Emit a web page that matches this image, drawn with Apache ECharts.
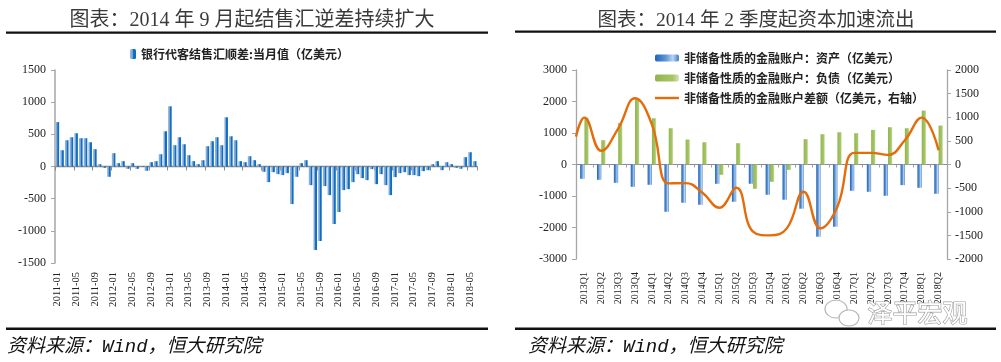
<!DOCTYPE html>
<html><head><meta charset="utf-8">
<script src="https://cdn.jsdelivr.net/npm/echarts@6/dist/echarts.min.js"></script>
<style>html,body{margin:0;padding:0;background:#fff;}#c{width:1001px;height:362px;}</style>
</head><body><div id="c"></div>
<script>
// ---------- data ----------
const leftTitle = '图表：2014 年 9 月起结售汇逆差持续扩大';
const rightTitle = '图表：2014 年 2 季度起资本加速流出';
const leftSeriesName = '银行代客结售汇顺差:当月值（亿美元）';
const rightSeriesNames = ['非储备性质的金融账户：资产（亿美元）', '非储备性质的金融账户：负债（亿美元）', '非储备性质的金融账户差额（亿美元，右轴）'];
const sourceText = '资料来源：Wind，恒大研究院';

const months = [];
for (let y = 2011; y <= 2018; y++) for (let m = 1; m <= 12; m++) {
  if (y === 2018 && m > 6) break;
  months.push(y + '-' + (m < 10 ? '0' + m : m));
}
const netSettlement = [
  690, 253, 408, 455, 517, 440, 440, 377, 269, 36, -20, -160,
  207, 52, 83, -36, 52, -36, 8, -67, 67, 83, 191, 548,
  936, 331, 455, 346, 176, 83, 36, 98, 315, 393, 455, 331,
  765, 470, 408, 83, 67, 160, 98, 36, -83, -243, -88, -119,
  -134, -103, -584, -160, 52, 98, -290, -1298, -1158, -305, -445, -894,
  -708, -367, -352, -243, -119, -181, -212, -41, -274, -119, -290, -445,
  -165, -103, -88, -134, -134, -150, -72, -57, 36, 83, -57, 67,
  36, -20, -36, 145, 222, 83
];

const quarters = [];
for (let y = 2013; y <= 2018; y++) for (let q = 1; q <= 4; q++) {
  if (y === 2018 && q > 2) break;
  quarters.push(y + 'Q' + q);
}
const assets = [-454, -486, -581, -708, -644, -1500, -1214, -1278, -612, -1183, -612, -961, -1119, -1404, -2292, -1975, -834, -866, -993, -655, -739, -929];
const liabilities = [1489, 771, 1320, 2070, 1468, 1151, 792, 707, -327, 676, -771, -549, -169, 803, 961, 1024, 993, 1098, 1183, 1151, 1711, 1236];
const netFlowStart = 590; // value where the curve enters at the left axis
const netFlow = [993, 290, 760, 1401, 850, -400, -394, -598, -915, -493, -1420, -1500, -1352, -577, -1352, -894, 246, 246, 204, 514, 993, 303];

// ---------- chart ----------
const chart = echarts.init(document.getElementById('c'), null, {renderer: 'canvas'});
const G = echarts.graphic;
const serif = '"Liberation Serif", "Times New Roman", serif';
const cjk = '"Liberation Serif", "Noto Sans CJK SC", serif';
const axisGray = '#A6A6A6';
const plain = v => String(v);

const lineData = [[0, netFlowStart]].concat(netFlow.map((v, i) => [i + 0.5, v]));

const leftBarColor = new G.LinearGradient(0, 0, 1, 0, [
  {offset: 0, color: '#A3B8D3'}, {offset: 0.5, color: '#6F9DD2'},
  {offset: 0.58, color: '#0A6FC7'}, {offset: 1, color: '#0A6FC7'}]);
const assetColor = new G.LinearGradient(0, 0, 1, 0, [
  {offset: 0, color: '#1E63B8'}, {offset: 0.45, color: '#5F95D4'},
  {offset: 0.75, color: '#BCD4EF'}, {offset: 1, color: '#3A7BC8'}]);
const liabColor = new G.LinearGradient(0, 0, 1, 0, [
  {offset: 0, color: '#93B550'}, {offset: 0.75, color: '#A6C766'},
  {offset: 1, color: '#D8E6BE'}]);

const catLabel = (fs, margin, interval) => ({
  rotate: 90, interval: interval, fontFamily: serif, fontSize: fs, color: '#222', margin: margin
});
const legendText = {fontFamily: '"Noto Sans CJK SC"', fontSize: 12, lineHeight: 12, fontWeight: 'bold', color: '#222'};

chart.setOption({
  animation: false,
  title: [
    {text: leftTitle, left: 247, top: 6, textAlign: 'center',
     textStyle: {fontFamily: cjk, fontSize: 20, fontWeight: 'normal', color: '#3a3a3a'}},
    {text: rightTitle, left: 751, top: 6, textAlign: 'center',
     textStyle: {fontFamily: cjk, fontSize: 19.5, fontWeight: 'normal', color: '#3a3a3a'}}
  ],
  legend: [
    {data: [leftSeriesName], left: 125, top: 43, itemWidth: 6, itemHeight: 10, itemGap: 8, textStyle: legendText},
    {data: rightSeriesNames.slice(0, 2), orient: 'vertical', left: 650, top: 47, itemWidth: 24, itemHeight: 7, itemGap: 8,
     textStyle: legendText},
    {data: [rightSeriesNames[2]], left: 650, top: 87, icon: 'rect', itemWidth: 24, itemHeight: 2.4, itemGap: 8,
     textStyle: legendText}
  ],
  grid: [
    {left: 55, top: 70, width: 422, height: 193},
    {left: 576, top: 70, width: 371, height: 189}
  ],
  xAxis: [
    {gridIndex: 0, type: 'category', data: months, position: 'bottom',
     axisLine: {show: false, onZero: false}, axisTick: {show: false},
     axisLabel: catLabel(10.5, 9, 3)},
    {gridIndex: 0, type: 'category', data: months, position: 'bottom',
     axisLine: {show: true, onZero: true, lineStyle: {color: '#7f7f7f', width: 1.3}},
     axisTick: {show: true, interval: 3, length: 4, lineStyle: {color: '#8c8c8c'}},
     axisLabel: {show: false}},
    {gridIndex: 1, type: 'category', data: quarters, position: 'bottom',
     axisLine: {show: false, onZero: false}, axisTick: {show: false},
     axisLabel: catLabel(10, 13, 0)},
    {gridIndex: 1, type: 'category', data: quarters, position: 'bottom',
     axisLine: {show: true, onZero: true, onZeroAxisIndex: 1, lineStyle: {color: '#8c8c8c', width: 1.2}},
     axisTick: {show: true, interval: 0, length: 3, lineStyle: {color: '#a0a0a0'}},
     axisLabel: {show: false}},
    {gridIndex: 1, type: 'value', min: 0, max: quarters.length, show: false}
  ],
  yAxis: [
    {gridIndex: 0, type: 'value', min: -1500, max: 1500, interval: 500,
     axisLine: {show: true, lineStyle: {color: axisGray, width: 1.5}},
     axisTick: {show: true, length: 4, lineStyle: {color: axisGray}},
     splitLine: {show: false},
     axisLabel: {fontFamily: serif, fontSize: 12, color: '#222', margin: 9, formatter: plain}},
    {gridIndex: 1, type: 'value', min: -3000, max: 3000, interval: 1000, position: 'left',
     axisLine: {show: true, lineStyle: {color: axisGray, width: 1.3}},
     axisTick: {show: true, length: 4, lineStyle: {color: axisGray}},
     splitLine: {show: false},
     axisLabel: {fontFamily: serif, fontSize: 12, color: '#222', margin: 9, formatter: plain}},
    {gridIndex: 1, type: 'value', min: -2000, max: 2000, interval: 500, position: 'right',
     axisLine: {show: true, lineStyle: {color: axisGray, width: 1.3}},
     axisTick: {show: true, length: 4, lineStyle: {color: axisGray}},
     splitLine: {show: false},
     axisLabel: {fontFamily: serif, fontSize: 12, color: '#222', margin: 8, formatter: plain}}
  ],
  series: [
    {name: leftSeriesName, type: 'bar', xAxisIndex: 0, yAxisIndex: 0, data: netSettlement,
     barWidth: 3.6, itemStyle: {color: leftBarColor}},
    {name: rightSeriesNames[0], type: 'bar', xAxisIndex: 2, yAxisIndex: 1, data: assets,
     barWidth: 4.3, barGap: '0%', itemStyle: {color: assetColor}},
    {name: rightSeriesNames[1], type: 'bar', xAxisIndex: 2, yAxisIndex: 1, data: liabilities,
     barWidth: 4.3, barGap: '0%', itemStyle: {color: liabColor}},
    {name: rightSeriesNames[2], type: 'line', xAxisIndex: 4, yAxisIndex: 2, data: lineData,
     smooth: 0.45, symbol: 'none', z: 5, lineStyle: {color: '#E46C0A', width: 2.4},
     itemStyle: {color: '#E46C0A'}}
  ],
  graphic: [
    {type: 'rect', shape: {x: 6, y: 31.5, width: 482, height: 2.2}, style: {fill: '#111'}},
    {type: 'rect', shape: {x: 515, y: 30.5, width: 481, height: 2.2}, style: {fill: '#111'}},
    {type: 'rect', shape: {x: 6, y: 327.5, width: 482, height: 2.6}, style: {fill: '#111'}},
    {type: 'rect', shape: {x: 515, y: 327.5, width: 481, height: 2.6}, style: {fill: '#111'}},
    {type: 'text', left: 7, top: 337, style: {text: sourceText, fontFamily: '"Liberation Mono", "Noto Sans CJK SC", monospace',
      fontSize: 19, fontStyle: 'italic', fill: '#111'}},
    {type: 'text', left: 528, top: 337, style: {text: sourceText, fontFamily: '"Liberation Mono", "Noto Sans CJK SC", monospace',
      fontSize: 19, fontStyle: 'italic', fill: '#111'}},
    {type: 'ellipse', shape: {cx: 836, cy: 309, rx: 11, ry: 9}, style: {fill: '#fff', stroke: '#b8b8b8', lineWidth: 1.2}, z: 10},
    {type: 'ellipse', shape: {cx: 849, cy: 318, rx: 10, ry: 8}, style: {fill: '#fff', stroke: '#b8b8b8', lineWidth: 1.2}, z: 11},
    {type: 'text', left: 867, top: 299, z: 12, style: {text: '泽平宏观', fontFamily: '"Noto Sans CJK SC"', fontSize: 25,
      fill: '#fff', stroke: '#9a9a9a', lineWidth: 1.2}}
  ]
});
</script></body></html>
